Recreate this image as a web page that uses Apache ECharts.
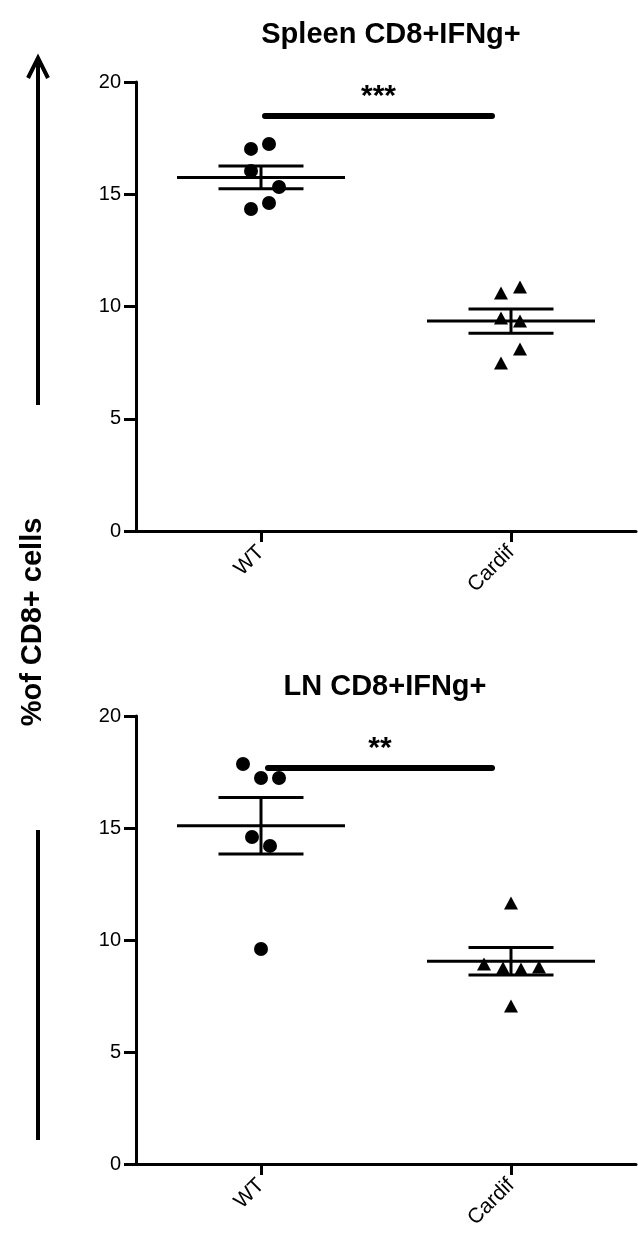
<!DOCTYPE html>
<html><head><meta charset="utf-8">
<script src="https://cdn.jsdelivr.net/npm/echarts@6/dist/echarts.min.js"></script>
<style>html,body{margin:0;padding:0;background:#fff}#c{width:638px;height:1247px}</style>
</head><body><div id="c"></div>
<script>
// ---- data ----
const groups = ['WT', 'Cardif'];
const groupPos = [0.5, 1.5];
const yTicks = [0, 5, 10, 15, 20];
// Spleen panel
const spleenWT = [17.02, 17.24, 16.04, 15.32, 14.61, 14.34];
const spleenWTJitter = [-0.04, 0.032, -0.04, 0.072, 0.032, -0.04];
const spleenCardif = [10.60, 10.87, 9.49, 9.35, 8.11, 7.48];
const spleenCardifJitter = [-0.04, 0.036, -0.04, 0.036, 0.036, -0.04];
const spleenMean = [15.75, 9.35];
const spleenSem = [0.51, 0.54];
const spleenSig = {label: '***', from: 0.516, to: 1.424, y: 18.49};
// LN panel
const lnWT = [17.86, 17.23, 17.23, 14.60, 14.20, 9.60];
const lnWTJitter = [-0.072, 0, 0.072, -0.036, 0.036, 0];
const lnCardif = [11.65, 8.93, 8.75, 8.71, 8.79, 7.05];
const lnCardifJitter = [0, -0.108, -0.032, 0.04, 0.112, 0];
const lnMean = [15.10, 9.05];
const lnSem = [1.26, 0.61];
const lnSig = {label: '**', from: 0.528, to: 1.424, y: 17.68};

const FONT = 'Liberation Sans, Arial, sans-serif';
const chart = echarts.init(document.getElementById('c'));

function pts(vals, jit, gi) { return vals.map((v, i) => [groupPos[gi] + jit[i], v]); }

function xAxisDef(gi) {
  return {
    gridIndex: gi, type: 'value', min: 0, max: 2,
    splitLine: {show: false},
    axisLine: {lineStyle: {color: '#000', width: 3}},
    axisTick: {length: 11, lineStyle: {color: '#000', width: 3}, customValues: groupPos},
    axisLabel: {customValues: groupPos, rotate: 45, fontSize: 21, color: '#000', fontFamily: FONT, margin: 18,
      formatter: v => groups[groupPos.indexOf(v)] || ''}
  };
}
function yAxisDef(gi) {
  return {
    gridIndex: gi, type: 'value', min: 0, max: 20, interval: 5,
    splitLine: {show: false},
    axisLine: {show: true, lineStyle: {color: '#000', width: 3}},
    axisTick: {show: true, inside: false, length: 12, lineStyle: {color: '#000', width: 3}},
    axisLabel: {fontSize: 20, color: '#000', fontFamily: FONT, margin: 15,
      formatter: v => yTicks.includes(v) ? String(v) : ''}
  };
}
function meanSemSeries(gi, means, sems) {
  return {
    type: 'custom', xAxisIndex: gi, yAxisIndex: gi, z: 5,
    data: means.map((m, i) => [groupPos[i], m, sems[i]]),
    renderItem: (params, api) => {
      const x = api.value(0), m = api.value(1), s = api.value(2);
      const c = api.coord([x, m]);
      const half = api.size([0.336, 0])[0];
      const semHalf = api.size([0.17, 0])[0];
      const hi = api.coord([x, m + s])[1], lo = api.coord([x, m - s])[1];
      const st = {stroke: '#000', lineWidth: 3};
      return {type: 'group', children: [
        {type: 'line', shape: {x1: c[0] - half, y1: c[1], x2: c[0] + half, y2: c[1]}, style: st},
        {type: 'line', shape: {x1: c[0] - semHalf, y1: hi, x2: c[0] + semHalf, y2: hi}, style: st},
        {type: 'line', shape: {x1: c[0] - semHalf, y1: lo, x2: c[0] + semHalf, y2: lo}, style: st},
        {type: 'line', shape: {x1: c[0], y1: hi, x2: c[0], y2: lo}, style: st}
      ]};
    }
  };
}
function sigSeries(gi, sig) {
  return {
    type: 'custom', xAxisIndex: gi, yAxisIndex: gi, z: 5,
    data: [[sig.from, sig.to, sig.y]],
    renderItem: (params, api) => {
      const a = api.coord([api.value(0), api.value(2)]);
      const b = api.coord([api.value(1), api.value(2)]);
      return {type: 'group', children: [
        {type: 'line', shape: {x1: a[0], y1: a[1], x2: b[0], y2: b[1]}, style: {stroke: '#000', lineWidth: 6, lineCap: 'round'}},
        {type: 'text', x: (a[0] + b[0]) / 2, y: a[1] - 4,
          style: {text: sig.label, fill: '#000', font: 'bold 30px ' + FONT, textAlign: 'center', textVerticalAlign: 'bottom'}}
      ]};
    }
  };
}
function scatter(gi, data, symbol) {
  return {type: 'scatter', xAxisIndex: gi, yAxisIndex: gi, data, symbol, symbolSize: symbol === 'circle' ? 14 : [14, 13],
    itemStyle: {color: '#000', opacity: 1}, z: 6, silent: true};
}

chart.setOption({
  animation: false,
  backgroundColor: '#fff',
  title: [
    {text: 'Spleen CD8+IFNg+', left: 386, top: 15, textAlign: 'center', textStyle: {fontSize: 29, fontWeight: 'bold', color: '#000', fontFamily: FONT}},
    {text: 'LN CD8+IFNg+', left: 380, top: 667, textAlign: 'center', textStyle: {fontSize: 29, fontWeight: 'bold', color: '#000', fontFamily: FONT}}
  ],
  grid: [
    {left: 136, top: 82, width: 500, height: 449},
    {left: 136, top: 716, width: 500, height: 448}
  ],
  xAxis: [xAxisDef(0), xAxisDef(1)],
  yAxis: [yAxisDef(0), yAxisDef(1)],
  graphic: [
    {type: 'polyline', shape: {points: [[38, 405], [38, 60]]}, style: {stroke: '#000', lineWidth: 4, fill: null}},
    {type: 'polyline', shape: {points: [[28, 78], [38, 58], [48, 78]]}, style: {stroke: '#000', lineWidth: 4, fill: null}},
    {type: 'polyline', shape: {points: [[38, 830], [38, 1140]]}, style: {stroke: '#000', lineWidth: 4, fill: null}},
    {type: 'text', x: 33, y: 622, rotation: Math.PI / 2,
      style: {text: '%of CD8+ cells', font: 'bold 29px ' + FONT, fill: '#000', textAlign: 'center', textVerticalAlign: 'middle'}}
  ],
  series: [
    scatter(0, pts(spleenWT, spleenWTJitter, 0), 'circle'),
    scatter(0, pts(spleenCardif, spleenCardifJitter, 1), 'triangle'),
    meanSemSeries(0, spleenMean, spleenSem),
    sigSeries(0, spleenSig),
    scatter(1, pts(lnWT, lnWTJitter, 0), 'circle'),
    scatter(1, pts(lnCardif, lnCardifJitter, 1), 'triangle'),
    meanSemSeries(1, lnMean, lnSem),
    sigSeries(1, lnSig)
  ]
});
</script></body></html>
